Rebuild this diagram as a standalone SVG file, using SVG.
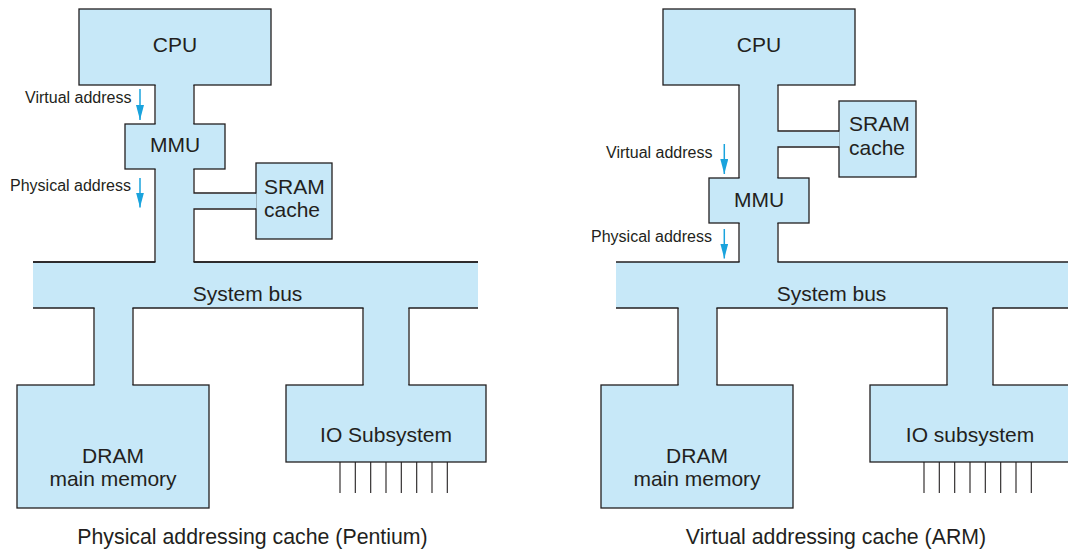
<svg xmlns="http://www.w3.org/2000/svg" width="1068" height="549" viewBox="0 0 1068 549">
<style>
.box{fill:#c7e8f8;stroke:#231f20;stroke-width:1.3}
.fl{fill:#c7e8f8;stroke:none}
.ln{stroke:#231f20;stroke-width:1.3;fill:none}
.pin{stroke:#231f20;stroke-width:1.1}
.arr{stroke:#1aa3dd;stroke-width:1.5;fill:none}
text{font-family:"Liberation Sans",Arial,Helvetica,sans-serif;fill:#231f20}
.big{font-size:21px;text-anchor:middle}
.bl{font-size:21px}
.sm{font-size:16px;text-anchor:end}
.cap{font-size:21.3px;text-anchor:middle}
</style>
<defs>
<marker id="ah" markerUnits="userSpaceOnUse" markerWidth="15" markerHeight="8" viewBox="0 0 15 8" refX="15" refY="4" orient="auto">
<path d="M0,0 L15,4 L0,8 Z" fill="#1aa3dd"/>
</marker>
</defs>

<!-- LEFT: Physical addressing cache -->
<g id="left-cpu"><rect class="box" x="79" y="9" width="192" height="76"/><text class="big" x="175" y="52">CPU</text></g>
<g id="left-mmu"><rect class="box" x="125" y="124" width="100" height="45"/><text class="big" x="175" y="152">MMU</text></g>
<g id="left-sram"><rect class="box" x="256" y="163" width="76" height="76"/><text class="bl" x="264" y="194">SRAM</text><text class="bl" x="264" y="217">cache</text></g>
<g id="left-bus"><rect class="fl" x="33" y="262" width="445" height="46"/><path class="ln" d="M33,262H478M33,308H478"/><text class="big" x="247.5" y="300.5">System bus</text></g>
<g id="left-dram"><rect class="box" x="17" y="385" width="192" height="123"/><text class="big" x="113" y="462.5">DRAM</text><text class="big" x="113" y="486">main memory</text></g>
<g id="left-io"><rect class="box" x="286" y="385" width="200" height="77"/><text class="big" x="386" y="441.5">IO Subsystem</text>
<path class="pin" d="M340,462V493M355.3,462V493M370.7,462V493M386,462V493M401.3,462V493M416.7,462V493M432,462V493M447.3,462V493"/></g>

<!-- RIGHT: Virtual addressing cache -->
<g id="right-cpu"><rect class="box" x="663" y="9" width="192" height="76"/><text class="big" x="759" y="52">CPU</text></g>
<g id="right-sram"><rect class="box" x="839" y="101" width="77" height="76"/><text class="bl" x="849" y="131">SRAM</text><text class="bl" x="849" y="154.5">cache</text></g>
<g id="right-mmu"><rect class="box" x="709" y="178" width="100" height="45"/><text class="big" x="759" y="207">MMU</text></g>
<g id="right-bus"><rect class="fl" x="616" y="262" width="452" height="46"/><path class="ln" d="M616,262H1068M616,308H1068"/><text class="big" x="831.5" y="300.5">System bus</text></g>
<g id="right-dram"><rect class="box" x="601" y="385" width="192" height="123"/><text class="big" x="697" y="462.5">DRAM</text><text class="big" x="697" y="486">main memory</text></g>
<g id="right-io"><rect class="box" x="870" y="385" width="205" height="77"/><text class="big" x="970" y="441.5">IO subsystem</text>
<path class="pin" d="M924,462V493M939.3,462V493M954.7,462V493M970,462V493M985.3,462V493M1000.7,462V493M1016,462V493M1031.3,462V493"/></g>

<g id="connectors">
<!-- left stems -->
<rect class="fl" x="155.6" y="84" width="37.8" height="41"/>
<path class="ln" d="M155,85V124M194,85V124"/>
<rect class="fl" x="155.6" y="168" width="37.8" height="95"/>
<rect class="fl" x="193" y="193.6" width="63.6" height="14.8"/>
<path class="ln" d="M155,169V262M194,169V193H256M194,262V209H256"/>
<path class="ln" d="M33,262H155M194,262H478"/>
<rect class="fl" x="94.6" y="307" width="37.8" height="79"/>
<path class="ln" d="M94,308V385M133,308V385"/>
<rect class="fl" x="363.6" y="307" width="44.8" height="79"/>
<path class="ln" d="M363,308V385M409,308V385"/>
<!-- left arrows -->
<line class="arr" x1="140" y1="89" x2="140" y2="120" marker-end="url(#ah)"/>
<line class="arr" x1="140" y1="178" x2="140" y2="207.5" marker-end="url(#ah)"/>
<text class="sm" x="131.5" y="103">Virtual address</text>
<text class="sm" x="131" y="190.5">Physical address</text>

<!-- right stems -->
<rect class="fl" x="739.6" y="84" width="37.8" height="95"/>
<rect class="fl" x="777" y="131.6" width="62.6" height="14.8"/>
<path class="ln" d="M739,85V178M778,85V131H839M778,178V147H839"/>
<rect class="fl" x="739.6" y="222" width="37.8" height="41"/>
<path class="ln" d="M739,223V262M778,223V262"/>
<rect class="fl" x="678.6" y="307" width="37.8" height="79"/>
<path class="ln" d="M678,308V385M717,308V385"/>
<rect class="fl" x="947.6" y="307" width="44.8" height="79"/>
<path class="ln" d="M947,308V385M993,308V385"/>
<!-- right arrows -->
<line class="arr" x1="724.3" y1="144" x2="724.3" y2="174" marker-end="url(#ah)"/>
<line class="arr" x1="724.3" y1="229" x2="724.3" y2="258.5" marker-end="url(#ah)"/>
<text class="sm" x="712.5" y="158">Virtual address</text>
<text class="sm" x="712" y="241.5">Physical address</text>
</g>

<text class="cap" x="252.5" y="544">Physical addressing cache (Pentium)</text>
<text class="cap" x="836" y="544">Virtual addressing cache (ARM)</text>
</svg>
